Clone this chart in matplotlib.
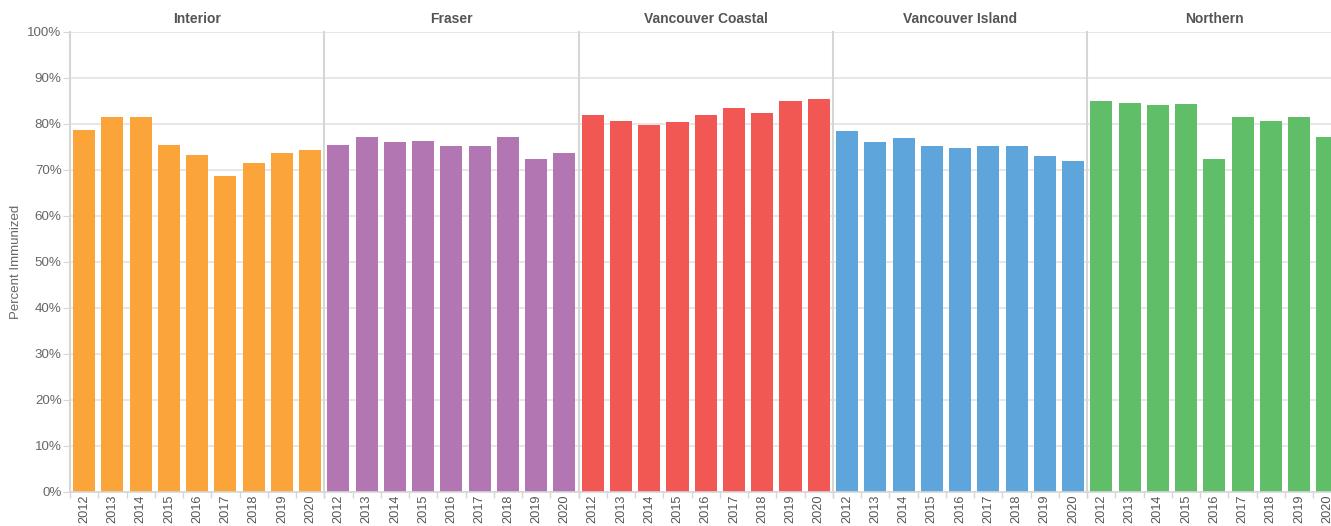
import numpy as np
import matplotlib.pyplot as plt
from matplotlib.ticker import FixedLocator

years = ["2012", "2013", "2014", "2015", "2016", "2017", "2018", "2019", "2020"]
regions = ["Interior", "Fraser", "Vancouver Coastal", "Vancouver Island", "Northern"]

interior = [78.7, 81.5, 81.5, 75.4, 73.3, 68.7, 71.5, 73.7, 74.3]
fraser = [75.4, 77.2, 76.1, 76.3, 75.2, 75.2, 77.2, 72.4, 73.7]
vancouver_coastal = [82.0, 80.7, 79.8, 80.5, 82.0, 83.5, 82.3, 85.0, 85.4]
vancouver_island = [78.5, 76.1, 77.0, 75.2, 74.8, 75.2, 75.2, 73.0, 72.0]
northern = [85.0, 84.6, 84.1, 84.3, 72.4, 81.5, 80.6, 81.5, 77.2]

values = [interior, fraser, vancouver_coastal, vancouver_island, northern]
colors = ["#FAA43A", "#B276B2", "#F15854", "#5DA5DA", "#60BD68"]

plt.rcParams['font.family'] = ['Liberation Sans', 'DejaVu Sans']

W, H = 1331, 526
fig = plt.figure(figsize=(W / 100, H / 100), dpi=100)

left = 70
panel_w = 254.3
top = 32
bottom = 492
grid_c = "#e3e3e3"
sep_c = "#d6d6d6"
text_c = "#555555"

x = np.arange(len(years))
for k, (name, vals, col) in enumerate(zip(regions, values, colors)):
	x0 = left + k * panel_w
	ax = fig.add_axes([x0 / W, (H - bottom) / H, panel_w / W, (bottom - top) / H])
	ax.bar(x, vals, width=0.78, color=col, zorder=2)
	ax.set_xlim(-0.5, len(years) - 0.5)
	ax.set_ylim(0, 100)
	ax.set_yticks(np.arange(0, 101, 10))
	ax.yaxis.grid(True, color=grid_c, linewidth=1.2, zorder=0)
	ax.set_xticks(x)
	ax.set_xticklabels(years, rotation=90, fontsize=9.2, color=text_c)
	ax.tick_params(axis='x', which='major', length=0, pad=2)
	ax.xaxis.set_minor_locator(FixedLocator(np.arange(-0.5, len(years), 1.0)))
	ax.tick_params(axis='x', which='minor', length=4, color=sep_c, width=1)
	if k == 0:
		ax.set_yticklabels(["%d%%" % v for v in range(0, 101, 10)], fontsize=9.6, color="#666666")
		ax.tick_params(axis='y', length=5, color=sep_c, pad=1)
		ax.set_ylabel("Percent Immunized", fontsize=9.5, color="#666666", labelpad=4)
	else:
		ax.set_yticklabels([])
		ax.tick_params(axis='y', length=0)
	for s in ["top", "right"]:
		ax.spines[s].set_visible(False)
	ax.spines["left"].set_color(sep_c)
	ax.spines["left"].set_linewidth(1.5)
	ax.spines["bottom"].set_color(sep_c)
	ax.spines["bottom"].set_linewidth(1.2)
	ax.text(0.5, 1 + 13 / (bottom - top), name, transform=ax.transAxes, ha='center', va='center',
			fontsize=10, fontweight='bold', color=text_c)

fig.savefig("out.png", dpi=100)
